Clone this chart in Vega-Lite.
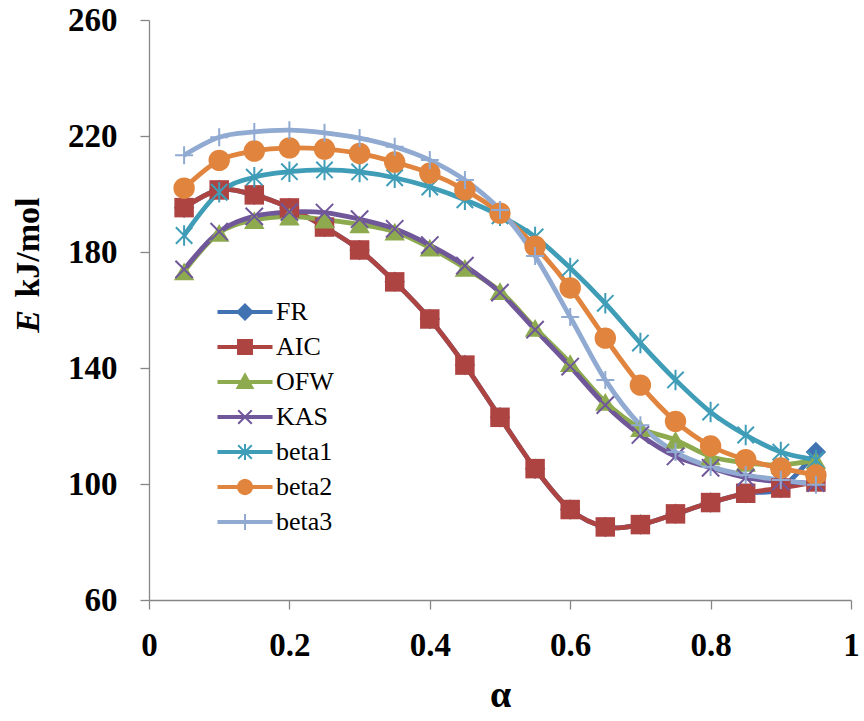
{
  "$schema": "https://vega.github.io/schema/vega-lite/v6.json",
  "width": 702,
  "height": 580,
  "autosize": "none",
  "padding": {"left": 149, "top": 20, "right": 13, "bottom": 121},
  "background": "white",
  "config": {
    "view": {"stroke": null},
    "axis": {
      "domainColor": "#868686", "tickColor": "#868686", "domainWidth": 1.3, "tickWidth": 1.3,
      "grid": false, "tickSize": 9,
      "labelFont": "Liberation Serif", "labelFontWeight": "bold", "labelFontSize": 33, "labelColor": "black",
      "titleFont": "Liberation Serif", "titleFontWeight": "bold", "titleColor": "black"
    },
    "legend": {"labelFont": "Liberation Serif", "labelFontSize": 26, "labelColor": "black", "rowPadding": 4, "labelOffset": 13, "labelLimit": 0}
  },
  "data": {
    "values": [
      {"s": "FR", "a": 0.05, "E": 195.3}, {"s": "FR", "a": 0.1, "E": 201.4}, {"s": "FR", "a": 0.15, "E": 199.7}, {"s": "FR", "a": 0.2, "E": 195.2}, {"s": "FR", "a": 0.25, "E": 188.6}, {"s": "FR", "a": 0.3, "E": 180.7}, {"s": "FR", "a": 0.35, "E": 169.7}, {"s": "FR", "a": 0.4, "E": 156.9}, {"s": "FR", "a": 0.45, "E": 141.0}, {"s": "FR", "a": 0.5, "E": 123.0}, {"s": "FR", "a": 0.55, "E": 105.3}, {"s": "FR", "a": 0.6, "E": 91.2}, {"s": "FR", "a": 0.65, "E": 85.2}, {"s": "FR", "a": 0.7, "E": 86.0}, {"s": "FR", "a": 0.75, "E": 89.7}, {"s": "FR", "a": 0.8, "E": 93.6}, {"s": "FR", "a": 0.85, "E": 96.8}, {"s": "FR", "a": 0.9, "E": 98.6}, {"s": "FR", "a": 0.95, "E": 111.0},
      {"s": "AIC", "a": 0.05, "E": 195.3}, {"s": "AIC", "a": 0.1, "E": 201.4}, {"s": "AIC", "a": 0.15, "E": 199.7}, {"s": "AIC", "a": 0.2, "E": 195.2}, {"s": "AIC", "a": 0.25, "E": 188.6}, {"s": "AIC", "a": 0.3, "E": 180.7}, {"s": "AIC", "a": 0.35, "E": 169.7}, {"s": "AIC", "a": 0.4, "E": 156.9}, {"s": "AIC", "a": 0.45, "E": 141.0}, {"s": "AIC", "a": 0.5, "E": 123.0}, {"s": "AIC", "a": 0.55, "E": 105.3}, {"s": "AIC", "a": 0.6, "E": 91.2}, {"s": "AIC", "a": 0.65, "E": 85.2}, {"s": "AIC", "a": 0.7, "E": 86.0}, {"s": "AIC", "a": 0.75, "E": 89.7}, {"s": "AIC", "a": 0.8, "E": 93.6}, {"s": "AIC", "a": 0.85, "E": 96.8}, {"s": "AIC", "a": 0.9, "E": 98.6}, {"s": "AIC", "a": 0.95, "E": 100.7},
      {"s": "OFW", "a": 0.05, "E": 173.3}, {"s": "OFW", "a": 0.1, "E": 186.6}, {"s": "OFW", "a": 0.15, "E": 191.0}, {"s": "OFW", "a": 0.2, "E": 192.2}, {"s": "OFW", "a": 0.25, "E": 191.2}, {"s": "OFW", "a": 0.3, "E": 189.5}, {"s": "OFW", "a": 0.35, "E": 187.0}, {"s": "OFW", "a": 0.4, "E": 181.5}, {"s": "OFW", "a": 0.45, "E": 174.5}, {"s": "OFW", "a": 0.5, "E": 166.5}, {"s": "OFW", "a": 0.55, "E": 153.8}, {"s": "OFW", "a": 0.6, "E": 141.7}, {"s": "OFW", "a": 0.65, "E": 128.3}, {"s": "OFW", "a": 0.7, "E": 119.3}, {"s": "OFW", "a": 0.75, "E": 115.2}, {"s": "OFW", "a": 0.8, "E": 109.5}, {"s": "OFW", "a": 0.85, "E": 107.3}, {"s": "OFW", "a": 0.9, "E": 106.6}, {"s": "OFW", "a": 0.95, "E": 108.2},
      {"s": "KAS", "a": 0.05, "E": 174.0}, {"s": "KAS", "a": 0.1, "E": 187.0}, {"s": "KAS", "a": 0.15, "E": 192.3}, {"s": "KAS", "a": 0.2, "E": 193.8}, {"s": "KAS", "a": 0.25, "E": 193.6}, {"s": "KAS", "a": 0.3, "E": 191.3}, {"s": "KAS", "a": 0.35, "E": 188.0}, {"s": "KAS", "a": 0.4, "E": 182.4}, {"s": "KAS", "a": 0.45, "E": 175.3}, {"s": "KAS", "a": 0.5, "E": 166.0}, {"s": "KAS", "a": 0.55, "E": 153.2}, {"s": "KAS", "a": 0.6, "E": 140.5}, {"s": "KAS", "a": 0.65, "E": 127.2}, {"s": "KAS", "a": 0.7, "E": 116.9}, {"s": "KAS", "a": 0.75, "E": 109.5}, {"s": "KAS", "a": 0.8, "E": 105.6}, {"s": "KAS", "a": 0.85, "E": 102.2}, {"s": "KAS", "a": 0.9, "E": 100.8}, {"s": "KAS", "a": 0.95, "E": 100.3},
      {"s": "beta1", "a": 0.05, "E": 185.7}, {"s": "beta1", "a": 0.1, "E": 200.6}, {"s": "beta1", "a": 0.15, "E": 205.8}, {"s": "beta1", "a": 0.2, "E": 207.7}, {"s": "beta1", "a": 0.25, "E": 208.3}, {"s": "beta1", "a": 0.3, "E": 207.6}, {"s": "beta1", "a": 0.35, "E": 205.6}, {"s": "beta1", "a": 0.4, "E": 202.4}, {"s": "beta1", "a": 0.45, "E": 198.0}, {"s": "beta1", "a": 0.5, "E": 192.5}, {"s": "beta1", "a": 0.55, "E": 185.2}, {"s": "beta1", "a": 0.6, "E": 174.5}, {"s": "beta1", "a": 0.65, "E": 162.3}, {"s": "beta1", "a": 0.7, "E": 148.6}, {"s": "beta1", "a": 0.75, "E": 135.9}, {"s": "beta1", "a": 0.8, "E": 124.8}, {"s": "beta1", "a": 0.85, "E": 116.9}, {"s": "beta1", "a": 0.9, "E": 111.0}, {"s": "beta1", "a": 0.95, "E": 108.3},
      {"s": "beta2", "a": 0.05, "E": 202.0}, {"s": "beta2", "a": 0.1, "E": 211.6}, {"s": "beta2", "a": 0.15, "E": 214.8}, {"s": "beta2", "a": 0.2, "E": 215.9}, {"s": "beta2", "a": 0.25, "E": 215.5}, {"s": "beta2", "a": 0.3, "E": 214.0}, {"s": "beta2", "a": 0.35, "E": 211.0}, {"s": "beta2", "a": 0.4, "E": 207.2}, {"s": "beta2", "a": 0.45, "E": 201.4}, {"s": "beta2", "a": 0.5, "E": 193.4}, {"s": "beta2", "a": 0.55, "E": 182.0}, {"s": "beta2", "a": 0.6, "E": 167.6}, {"s": "beta2", "a": 0.65, "E": 150.3}, {"s": "beta2", "a": 0.7, "E": 134.1}, {"s": "beta2", "a": 0.75, "E": 121.6}, {"s": "beta2", "a": 0.8, "E": 113.1}, {"s": "beta2", "a": 0.85, "E": 108.4}, {"s": "beta2", "a": 0.9, "E": 105.5}, {"s": "beta2", "a": 0.95, "E": 103.1},
      {"s": "beta3", "a": 0.05, "E": 213.4}, {"s": "beta3", "a": 0.1, "E": 219.6}, {"s": "beta3", "a": 0.15, "E": 221.4}, {"s": "beta3", "a": 0.2, "E": 222.0}, {"s": "beta3", "a": 0.25, "E": 221.1}, {"s": "beta3", "a": 0.3, "E": 219.3}, {"s": "beta3", "a": 0.35, "E": 216.3}, {"s": "beta3", "a": 0.4, "E": 211.7}, {"s": "beta3", "a": 0.45, "E": 204.8}, {"s": "beta3", "a": 0.5, "E": 194.5}, {"s": "beta3", "a": 0.55, "E": 178.6}, {"s": "beta3", "a": 0.6, "E": 157.6}, {"s": "beta3", "a": 0.65, "E": 135.9}, {"s": "beta3", "a": 0.7, "E": 120.3}, {"s": "beta3", "a": 0.75, "E": 111.0}, {"s": "beta3", "a": 0.8, "E": 105.9}, {"s": "beta3", "a": 0.85, "E": 103.1}, {"s": "beta3", "a": 0.9, "E": 101.4}, {"s": "beta3", "a": 0.95, "E": 99.7}
    ]
  },
  "encoding": {
    "x": {"field": "a", "type": "quantitative", "scale": {"domain": [0, 1]},
      "axis": {"values": [0, 0.2, 0.4, 0.6, 0.8, 1], "format": "~g", "title": "α", "titleFontSize": 38, "labelPadding": 20, "labelFlush": false, "labelOverlap": false, "titlePadding": 14}},
    "y": {"field": "E", "type": "quantitative", "scale": {"domain": [60, 260]}, "axis": null},
    "color": {"field": "s", "type": "nominal", "scale": {"domain": ["FR", "AIC", "OFW", "KAS", "beta1", "beta2", "beta3"], "range": ["#4172B2", "#AE4442", "#8DAB4E", "#70579A", "#3F9DB7", "#E0843E", "#90AAD2"]},
      "legend": {"title": null, "orient": "none", "legendX": 78, "legendY": 274, "symbolSize": 1156, "symbolStrokeWidth": 2, "labelFont": "Liberation Serif", "labelFontSize": 26, "labelColor": "black", "labelOffset": 13, "rowPadding": 4, "labelLimit": 0,
        "encode": {"symbols": {"update": {"fill": {"scale": "color", "field": "value"}, "stroke": {"scale": "color", "field": "value"}, "strokeWidth": {"value": 2}, "opacity": {"value": 1}, "size": {"value": 1156}}}, "labels": {"update": {"font": {"value": "Liberation Serif"}, "fontSize": {"value": 26}, "fill": {"value": "black"}}}}}}
  },
  "layer": [
    {
      "mark": {"type": "line", "interpolate": "cardinal", "strokeWidth": 4.8},
      "encoding": {
        "y": {"field": "E", "type": "quantitative", "scale": {"domain": [60, 260]},
          "axis": {"orient": "left", "values": [60, 100, 140, 180, 220, 260], "title": "kJ/mol", "titleFontSize": 34, "labelPadding": 23, "labelFlush": false, "labelOverlap": false, "titleAngle": 270, "titleX": -121, "titleY": 227, "titleAlign": "center", "titleBaseline": "middle"}}
      }
    },
    {"transform": [{"filter": "datum.s == 'FR'"}], "mark": {"type": "point", "shape": "diamond", "filled": true, "size": 420, "opacity": 1}},
    {"transform": [{"filter": "datum.s == 'AIC'"}], "mark": {"type": "point", "shape": "square", "filled": true, "size": 380, "opacity": 1}},
    {"transform": [{"filter": "datum.s == 'OFW'"}], "mark": {"type": "point", "shape": "triangle-up", "filled": true, "size": 420, "opacity": 1}},
    {"transform": [{"filter": "datum.s == 'KAS'"}], "mark": {"type": "point", "shape": "M-1,-1L1,1M-1,1L1,-1", "filled": false, "size": 300, "strokeWidth": 2, "opacity": 1}},
    {"transform": [{"filter": "datum.s == 'beta1'"}], "mark": {"type": "point", "shape": "M-0.8,-0.8L0.8,0.8M-0.8,0.8L0.8,-0.8M0,-1L0,1", "filled": false, "size": 420, "strokeWidth": 2, "opacity": 1}},
    {"transform": [{"filter": "datum.s == 'beta2'"}], "mark": {"type": "point", "shape": "circle", "filled": true, "size": 460, "opacity": 1}},
    {"transform": [{"filter": "datum.s == 'beta3'"}], "mark": {"type": "point", "shape": "M-1,0L1,0M0,-1L0,1", "filled": false, "size": 324, "strokeWidth": 2, "opacity": 1}},
    {
      "transform": [{"filter": "datum.a == 0.05"}],
      "mark": {"type": "point", "filled": true, "opacity": 0},
      "encoding": {
        "y": {"field": "E", "type": "quantitative", "scale": {"domain": [60, 260]},
          "axis": {"orient": "left", "title": "E", "titleFontStyle": "italic", "titleFontSize": 34, "labels": false, "ticks": false, "domain": false, "titleAngle": 270, "titleX": -121, "titleY": 301, "titleAlign": "center", "titleBaseline": "middle"}},
        "shape": {"field": "s", "type": "nominal", "scale": {"domain": ["FR", "AIC", "OFW", "KAS", "beta1", "beta2", "beta3"],
          "range": [
            "M-1.56,-0.06H1.56V0.06H-1.56Z M0,-0.45L0.45,0L0,0.45L-0.45,0Z",
            "M-1.56,-0.06H1.56V0.06H-1.56Z M-0.41,-0.41H0.41V0.41H-0.41Z",
            "M-1.56,-0.06H1.56V0.06H-1.56Z M0,-0.45L0.45,0.35H-0.45Z",
            "M-1.56,-0.06H1.56V0.06H-1.56Z M-0.4,-0.4L0.4,0.4M-0.4,0.4L0.4,-0.4",
            "M-1.56,-0.06H1.56V0.06H-1.56Z M-0.4,-0.4L0.4,0.4M-0.4,0.4L0.4,-0.4M0,-0.47L0,0.47",
            "M-1.56,-0.06H1.56V0.06H-1.56Z M-0.42,0L-0.39,-0.16L-0.3,-0.3L-0.16,-0.39L0,-0.42L0.16,-0.39L0.3,-0.3L0.39,-0.16L0.42,0L0.39,0.16L0.3,0.3L0.16,0.39L0,0.42L-0.16,0.39L-0.3,0.3L-0.39,0.16Z",
            "M-1.56,-0.06H1.56V0.06H-1.56Z M0,-0.47L0,0.47"
          ]},
          "legend": {"title": null, "orient": "none", "legendX": 78, "legendY": 274, "symbolSize": 1156, "symbolStrokeWidth": 2, "labelFont": "Liberation Serif", "labelFontSize": 26, "labelColor": "black", "labelOffset": 13, "rowPadding": 4, "labelLimit": 0,
            "encode": {"symbols": {"update": {"fill": {"scale": "color", "field": "value"}, "stroke": {"scale": "color", "field": "value"}, "strokeWidth": {"value": 2}, "opacity": {"value": 1}, "size": {"value": 1156}}}, "labels": {"update": {"font": {"value": "Liberation Serif"}, "fontSize": {"value": 26}, "fill": {"value": "black"}}}}}}
      }
    }
  ],
  "resolve": {"axis": {"y": "independent"}}
}
